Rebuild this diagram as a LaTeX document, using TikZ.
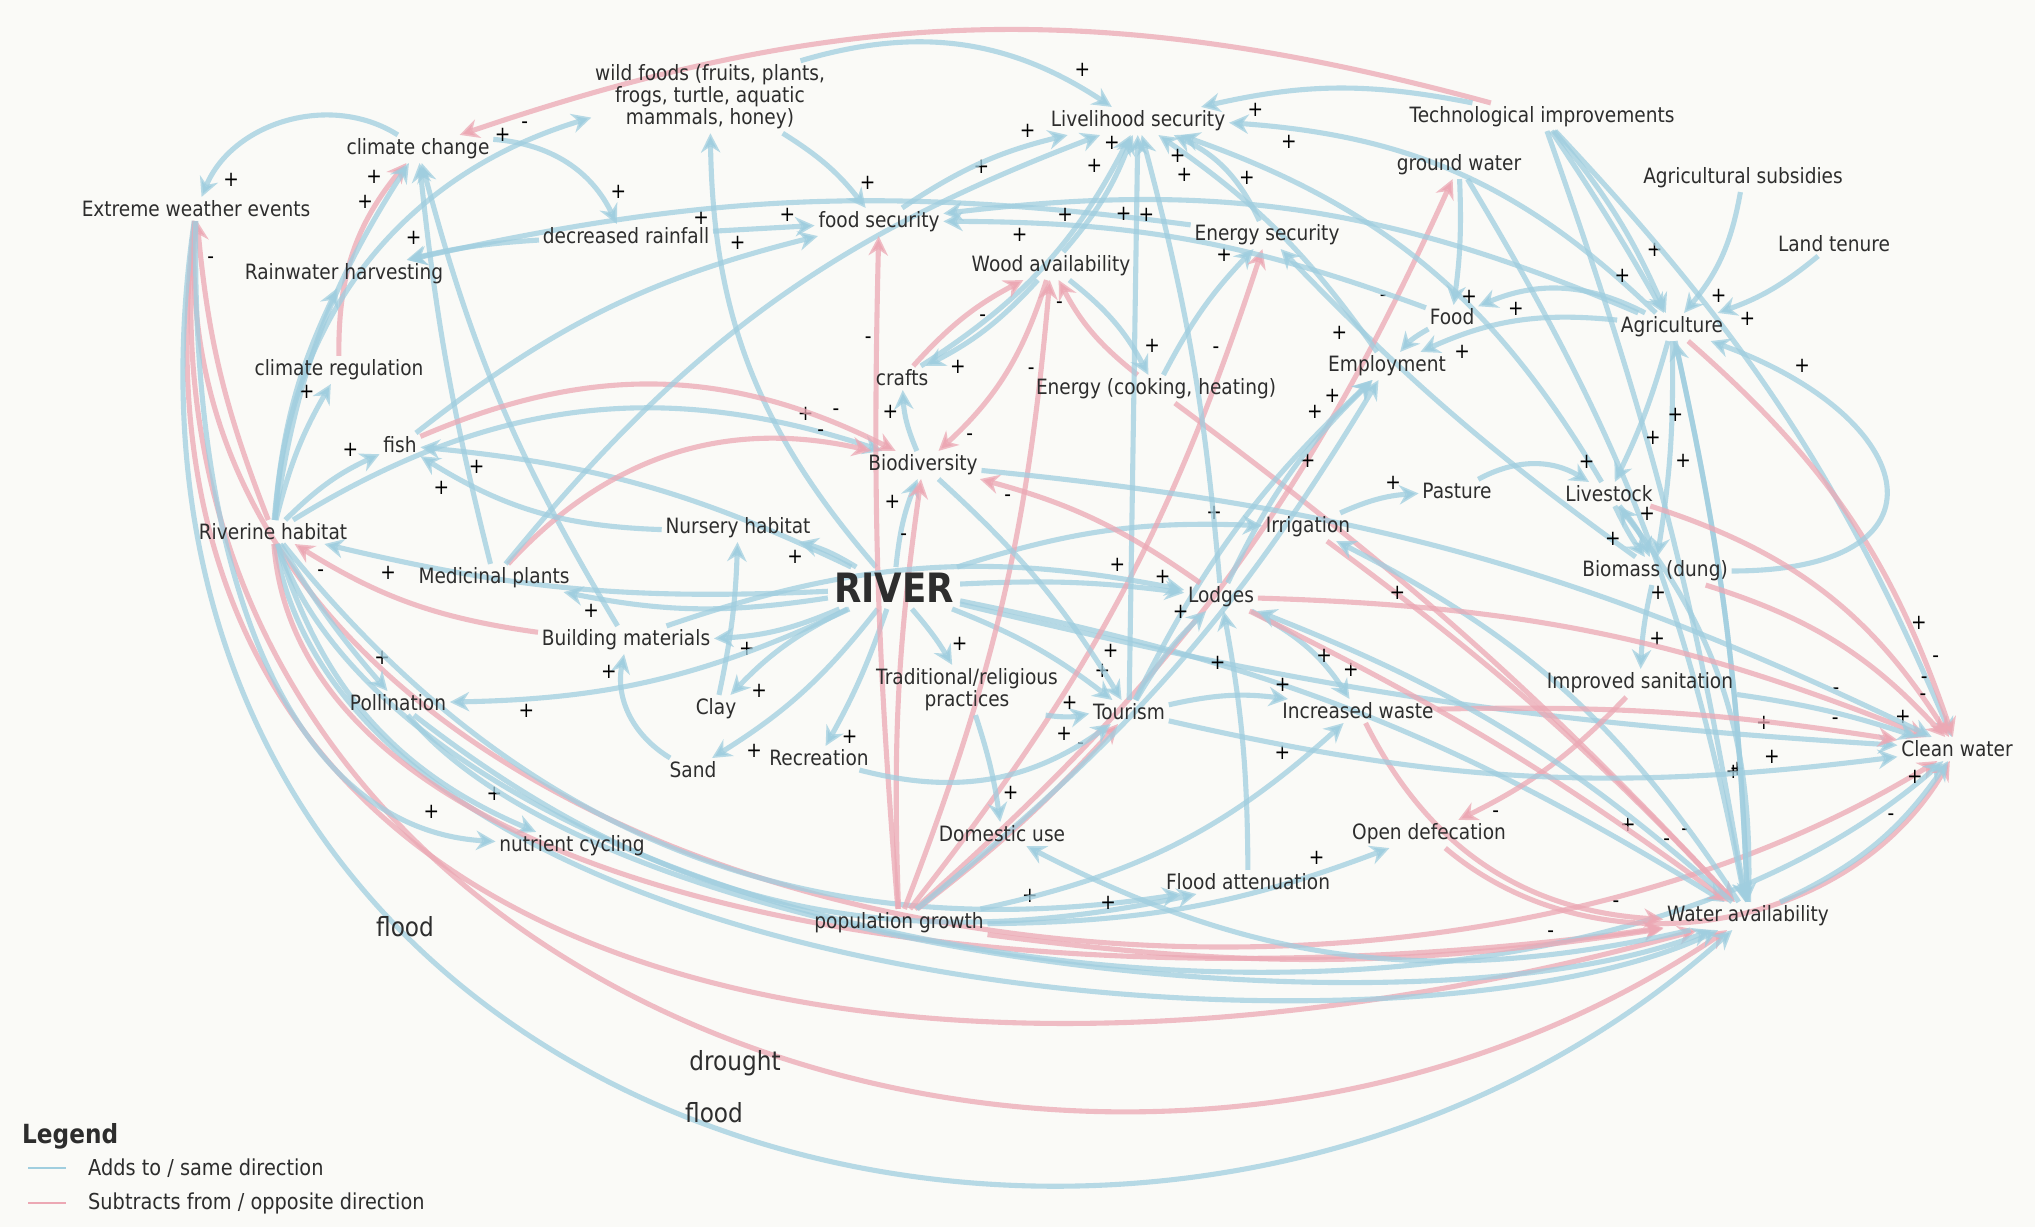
\documentclass[tikz,border=0pt]{standalone}
\usepackage{fontspec}
\setmainfont{DejaVu Sans}[FakeStretch=0.88]
\usetikzlibrary{arrows.meta}

\definecolor{addc}{RGB}{160,206,223}
\definecolor{subc}{RGB}{236,168,180}
\definecolor{bgc}{RGB}{250,250,247}
\definecolor{txtc}{RGB}{45,45,45}

\pgfdeclarelayer{links}
\pgfsetlayers{links,main}

\tikzset{
  lbl/.style={font=\fontsize{12}{11.5}\selectfont, text=txtc, inner sep=2pt, align=center},
  bigl/.style={font=\fontsize{15}{15}\selectfont, text=txtc, inner sep=1pt},
  ad/.style={draw=addc, line width=2.9pt, draw opacity=.75, -{Stealth[length=11pt,width=11pt,inset=3.5pt]}},
  sb/.style={ad, draw=subc},
  sg/.style={pos=.86, auto, font=\fontsize{12}{12}\selectfont, text=black, inner sep=1.5pt},
}

\begin{document}
\begin{tikzpicture}[x=0.2mm,y=0.2mm]
\useasboundingbox (0,0) rectangle (2035,-1227);

% factors
\node[lbl] (wild) at (710,-97) {wild foods (fruits, plants,\\frogs, turtle, aquatic\\mammals, honey)};
\node[lbl] (cc) at (418,-149) {climate change};
\node[lbl] (ewe) at (196,-209) {Extreme weather events};
\node[lbl] (drain) at (626,-236) {decreased rainfall};
\node[lbl] (fsec) at (879,-222) {food security};
\node[lbl] (live) at (1138,-121) {Livelihood security};
\node[lbl] (tech) at (1542,-117) {Technological improvements};
\node[lbl] (gw) at (1459,-165) {ground water};
\node[lbl] (agsub) at (1743,-178) {Agricultural subsidies};
\node[lbl] (land) at (1834,-244) {Land tenure};
\node[lbl] (esec) at (1267,-235) {Energy security};
\node[lbl] (wood) at (1051,-266) {Wood availability};
\node[lbl] (rain) at (344,-274) {Rainwater harvesting};
\node[lbl] (food) at (1452,-317) {Food};
\node[lbl] (agri) at (1672,-327) {Agriculture};
\node[lbl] (creg) at (339,-370) {climate regulation};
\node[lbl] (crafts) at (902,-378) {crafts};
\node[lbl] (energy) at (1156,-389) {Energy (cooking, heating)};
\node[lbl] (employ) at (1387,-366) {Employment};
\node[lbl] (fish) at (400,-445) {fish};
\node[lbl] (biodiv) at (923,-465) {Biodiversity};
\node[lbl] (pasture) at (1457,-491) {Pasture};
\node[lbl] (livestock) at (1609,-494) {Livestock};
\node[lbl] (riverine) at (273,-532) {Riverine habitat};
\node[lbl] (nursery) at (738,-528) {Nursery habitat};
\node[lbl] (irrig) at (1308,-527) {Irrigation};
\node[lbl] (medic) at (494,-578) {Medicinal plants};
\node[lbl] (biomass) at (1655,-571) {Biomass (dung)};
\node[lbl] (lodges) at (1221,-597) {Lodges};
\node[lbl] (build) at (626,-640) {Building materials};
\node[lbl] (trad) at (967,-690) {Traditional/religious\\practices};
\node[lbl] (pollin) at (398,-703) {Pollination};
\node[lbl] (clay) at (716,-709) {Clay};
\node[lbl] (tourism) at (1129,-712) {Tourism};
\node[lbl] (waste) at (1358,-711) {Increased waste};
\node[lbl] (sanit) at (1640,-683) {Improved sanitation};
\node[lbl] (clean) at (1957,-749) {Clean water};
\node[lbl] (sand) at (693,-770) {Sand};
\node[lbl] (recr) at (819,-758) {Recreation};
\node[lbl] (domestic) at (1002,-834) {Domestic use};
\node[lbl] (opendef) at (1429,-834) {Open defecation};
\node[lbl] (nutr) at (572,-846) {nutrient cycling};
\node[lbl] (floodatt) at (1248,-882) {Flood attenuation};
\node[lbl] (pop) at (899,-923) {population growth};
\node[lbl] (water) at (1748,-916) {Water availability};
\node[font=\bfseries\fontsize{23}{23}\selectfont, text=txtc] (river) at (894,-588) {RIVER};

% arc labels
\node[bigl] (flooda) at (405,-927) {flood};
\node[bigl] (drought) at (735,-1063) {drought};
\node[bigl] (floodb) at (714,-1113) {flood};

% legend
\node[font=\bfseries\fontsize{15}{15}\selectfont, text=txtc, anchor=west] (legend) at (16,-1136) {Legend};
\node[font=\fontsize{12.5}{13}\selectfont, text=txtc, anchor=west] (addkey) at (82,-1168) {Adds to / same direction};
\node[font=\fontsize{12.5}{13}\selectfont, text=txtc, anchor=west] (subkey) at (82,-1203) {Subtracts from / opposite direction};
\coordinate (addend) at (28,-1168);
\coordinate (subend) at (28,-1203);
\draw[addc, line width=1.3pt] (addend) -- ([xshift=-9pt]addkey.west);
\draw[subc, line width=1.3pt] (subend) -- ([xshift=-9pt]subkey.west);

\begin{pgfonlayer}{links}
\fill[bgc] (0,0) rectangle (2035,-1227);

% climate and weather
\draw[sb] (tech) to[bend right=17] node[sg,pos=.95]{-} (cc);
\draw[ad] (cc) to[bend right=50] node[sg]{+} (ewe);
\draw[ad] (cc) to[bend left=30] node[sg]{+} (drain);
\draw[sb] (creg) to[bend left=20] node[sg]{+} (cc);
\draw[ad] (riverine) to[bend left=12] node[sg]{+} (cc);
\draw[ad] (medic) to[bend left=4] node[sg]{+} (cc);
\draw[ad] (build) to[bend left=8] (cc);
\draw[sb] (riverine) to[bend left=8] node[sg,swap]{-} (ewe);
\draw[sb] (ewe) .. controls (100,-1000) and (900,-1150) .. (water);
\draw[sb] (ewe) .. controls (120,-1000) and (1100,-1350) .. (water);
\draw[ad] (ewe) .. controls (60,-1150) and (1150,-1450) .. (water);
\draw[sb] (ewe) .. controls (150,-900) and (1300,-1150) .. (clean);
\draw[ad] (ewe) .. controls (190,-600) and (300,-830) .. node[sg]{+} (nutr);

% riverine habitat
\draw[ad] (riverine) to[bend left=8] node[sg]{+} (creg);
\draw[ad] (riverine) to[bend left=10] node[sg]{+} (fish);
\draw[ad] (riverine) to[bend right=5] node[sg]{+} (pollin);
\draw[ad] (riverine) to[bend right=25] node[sg]{+} (nutr);
\draw[ad] (riverine) to[bend left=25] node[sg]{+} (biodiv);
\draw[ad] (riverine) to[bend left=35] node[sg]{+} (wild);
\draw[ad] (riverine) to[bend left=10] (rain);
\draw[ad] (riverine) to[bend right=30] node[sg]{+} (floodatt);
\draw[ad] (riverine) .. controls (350,-1000) and (1400,-1080) .. (water);
\draw[sb] (riverine) .. controls (300,-900) and (1000,-1020) .. (water);
\draw[ad] (riverine) .. controls (420,-950) and (1500,-1150) .. (clean);
\draw[sb] (build) to[bend left=12] node[sg]{-} (riverine);

% RIVER
\draw[ad] (river) to[bend left=8] node[sg]{+} (riverine);
\draw[ad] (river) to[bend right=10] node[sg]{+} (fish);
\draw[ad] (river) to[bend right=8] node[sg]{+} (nursery);
\draw[ad] (river) to[bend left=10] node[sg]{+} (build);
\draw[ad] (river) to[bend left=10] node[sg]{+} (medic);
\draw[ad] (river) to[bend right=10] node[sg]{+} (clay);
\draw[ad] (river) to[bend left=10] node[sg]{+} (sand);
\draw[ad] (river) to[bend left=5] node[sg]{+} (recr);
\draw[ad] (river) to[bend left=12] node[sg]{+} (pollin);
\draw[ad] (river) to[bend left=8] node[sg,pos=.6]{+} (biodiv);
\draw[ad] (river) to[bend left=20] node[sg]{+} (wild);
\draw[ad] (river) to[bend left=10] node[sg]{+} (irrig);
\draw[ad] (river) to[bend left=5] node[sg]{+} (lodges);
\draw[ad] (river) to[bend left=8] node[sg]{+} (tourism);
\draw[ad] (river) to[bend right=5] node[sg]{+} (clean);
\draw[ad] (river) to[bend left=10] node[sg]{+} (water);
\draw[ad] (river) to[bend left=5] node[sg]{+} (trad);

% left and centre
\draw[sb] (fish) to[bend left=25] node[sg]{-} (biodiv);
\draw[ad] (fish) to[bend left=12] node[sg]{+} (fsec);
\draw[sb] (medic) to[bend left=30] node[sg]{-} (biodiv);
\draw[ad] (medic) to[bend left=15] node[sg]{+} (live);
\draw[ad] (nursery) to[bend left=15] node[sg]{+} (fish);
\draw[ad] (sand) to[bend left=35] node[sg]{+} (build);
\draw[ad] (clay) to[bend right=5] (nursery);
\draw[ad] (pollin) .. controls (600,-950) and (1400,-1050) .. (water);
\draw[ad] (pollin) to[bend right=25] (floodatt);
\draw[ad] (biodiv) to[bend left=10] node[sg]{+} (crafts);
\draw[ad] (crafts) to[bend right=15] node[sg]{+} (live);
\draw[sb] (crafts) to[bend left=10] node[sg,swap,pos=.6]{-} (wood);
\draw[sb] (wood) to[bend left=15] node[sg]{-} (biodiv);
\draw[ad] (wood) to[bend left=10] node[sg]{+} (crafts);
\draw[ad] (wood) to[bend left=12] node[sg]{+} (energy);
\draw[sb] (energy) to[bend left=12] node[sg]{-} (wood);
\draw[ad] (wood) to[bend right=10] node[sg]{+} (live);
\draw[ad] (energy) to[bend left=8] node[sg]{+} (esec);
\draw[sb] (energy) to[bend left=5] (water);
\draw[ad] (biomass) to[bend left=5] node[sg,pos=.8]{+} (esec);
\draw[ad] (fsec) to[bend left=10] node[sg]{+} (live);
\draw[ad] (drain) to node[sg]{+} (fsec);
\draw[ad] (drain) to[bend right=5] (rain);
\draw[ad] (esec) to[bend right=10] (rain);
\draw[ad] (wild) to[bend left=10] node[sg]{+} (fsec);
\draw[ad] (wild) to[bend left=25] node[sg]{+} (live);

% population growth
\draw[sb] (pop) to[bend left=3] node[sg]{-} (fsec);
\draw[sb] (pop) to[bend right=8] node[sg]{-} (wood);
\draw[sb] (pop) to[bend right=10] node[sg]{-} (esec);
\draw[sb] (pop) to[bend right=12] node[sg]{-} (gw);
\draw[sb] (pop) to[bend right=5] node[sg]{-} (tourism);
\draw[sb] (pop) to[bend right=8] node[sg]{-} (water);
\draw[sb] (pop) to[bend left=5] node[sg]{-} (biodiv);
\draw[ad] (pop) to[bend right=10] node[sg]{+} (opendef);
\draw[ad] (pop) to[bend right=15] node[sg]{+} (waste);
\draw[ad] (pop) to[bend right=10] node[sg]{+} (employ);

% livelihood and agriculture
\draw[ad] (agri) to[bend right=20] node[sg]{+} (live);
\draw[ad] (tech) to[bend right=12] node[sg]{+} (live);
\draw[ad] (employ) to[bend right=10] node[sg]{+} (live);
\draw[ad] (esec) to[bend right=20] node[sg]{+} (live);
\draw[ad] (tourism) to node[sg]{+} (live);
\draw[ad] (livestock) to[bend right=20] node[sg]{+} (live);
\draw[ad] (lodges) to[bend right=5] node[sg]{+} (live);
\draw[ad] (gw) to[bend left=5] node[sg]{+} (food);
\draw[ad] (gw) to[bend left=10] node[sg]{+} (water);
\draw[ad] (agri) to[bend right=25] node[sg]{+} (food);
\draw[ad] (agri) to[bend right=15] node[sg]{+} (fsec);
\draw[ad] (food) to[bend right=10] node[sg]{+} (fsec);
\draw[ad] (agri) to[bend right=15] node[sg]{+} (employ);
\draw[ad] (food) to[bend right=10] (employ);
\draw[ad] (tourism) to[bend left=10] node[sg]{+} (employ);
\draw[ad] (lodges) to[bend left=10] node[sg]{+} (employ);
\draw[ad] (tech) to[bend left=8] node[sg,pos=.75]{+} (agri);
\draw[ad] (tech) to[bend left=2] node[sg,swap,pos=.75]{+} (agri);
\draw[ad] (agsub) to[bend left=15] node[sg,pos=.75]{+} (agri);
\draw[ad] (land) to[bend left=10] node[sg]{+} (agri);
\draw[ad] (tech) to[bend left=10] node[sg]{+} (clean);
\draw[ad] (tech) to[bend left=5] node[sg]{+} (water);
\draw[ad] (agri) to[bend left=5] node[sg,pos=.6]{+} (livestock);
\draw[ad] (agri) to[bend left=5] node[sg,pos=.5]{+} (biomass);
\draw[sb] (agri) to[bend left=15] node[sg]{-} (clean);
\draw[ad] (water) to[bend right=5] node[sg,pos=.9]{+} (agri);
\draw[ad] (agri) to[bend left=5] (water);
\draw[ad] (biomass) to[out=0,in=-20,looseness=2.5] node[sg,swap]{+} (agri);
\draw[ad] (pasture) to[bend left=30] node[sg]{+} (livestock);
\draw[ad] (irrig) to[bend left=10] node[sg]{+} (pasture);
\draw[ad] (livestock) to[bend left=10] node[sg,pos=.4]{+} (biomass);
\draw[ad] (livestock) to[bend right=5] node[sg,swap,pos=.4]{+} (biomass);
\draw[sb] (livestock) to[bend left=20] node[sg]{-} (clean);
\draw[sb] (biomass) to[bend left=15] node[sg]{-} (clean);
\draw[ad] (biomass) to[bend right=5] node[sg,pos=.5]{+} (sanit);
\draw[ad] (water) to[bend right=20] node[sg,pos=.8]{+} (livestock);
\draw[sb] (irrig) to[bend left=5] node[sg]{-} (water);
\draw[ad] (water) to[bend right=15] node[sg]{+} (irrig);

% tourism, waste and water
\draw[ad] (trad) to[bend left=5] node[sg]{+} (domestic);
\draw[ad] (trad) to[bend right=10] node[sg]{+} (tourism);
\draw[ad] (recr) to[bend right=25] node[sg]{+} (tourism);
\draw[ad] (tourism) to[bend left=8] node[sg]{+} (lodges);
\draw[ad] (floodatt) to[bend right=5] node[sg]{+} (lodges);
\draw[ad] (build) to[bend left=15] node[sg]{+} (lodges);
\draw[sb] (lodges) to[bend right=10] node[sg]{-} (biodiv);
\draw[ad] (biodiv) to[bend left=8] node[sg]{+} (tourism);
\draw[ad] (tourism) to[bend left=10] node[sg]{+} (waste);
\draw[ad] (lodges) to[bend left=15] node[sg]{+} (waste);
\draw[sb] (lodges) to[bend left=10] node[sg]{-} (clean);
\draw[sb] (lodges) to[bend left=5] node[sg]{-} (water);
\draw[sb] (waste) to[bend left=5] node[sg]{-} (clean);
\draw[sb] (waste) to[bend right=30] node[sg]{-} (water);
\draw[sb] (sanit) to[bend left=10] node[sg]{-} (opendef);
\draw[ad] (sanit) to[bend left=5] node[sg]{+} (clean);
\draw[sb] (opendef) to[bend right=50] node[sg]{-} (clean);
\draw[ad] (water) to[bend right=15] node[sg]{+} (clean);
\draw[ad] (water) to[bend right=10] node[sg]{+} (lodges);
\draw[ad] (water) to[bend left=20] node[sg]{+} (domestic);
\draw[ad] (tourism) to[bend right=10] node[sg]{+} (clean);
\draw[ad] (biodiv) to[bend left=10] (clean);
\end{pgfonlayer}
\end{tikzpicture}
\end{document}
